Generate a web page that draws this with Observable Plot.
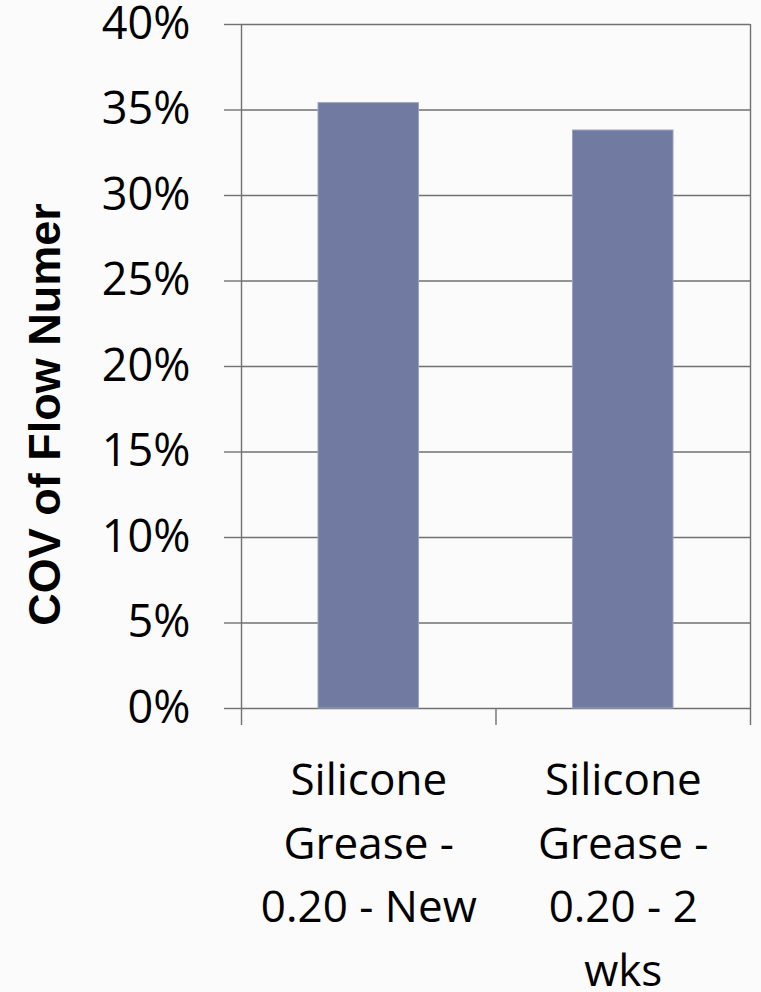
<!DOCTYPE html>
<html>
<head>
<meta charset="utf-8">
<script src="https://cdn.jsdelivr.net/npm/d3@7"></script>
<script src="https://cdn.jsdelivr.net/npm/@observablehq/plot@0.6"></script>
<style>
  html, body { margin: 0; padding: 0; background: #fbfbfb; }
  #chart svg { display: block; }
</style>
</head>
<body>
<div id="chart"></div>
<script>
// Coefficient of variation of the flow number, per grease sample
const categories = ["Silicone Grease - 0.20 - New", "Silicone Grease - 0.20 - 2 wks"];
const categoryLabels = ["Silicone\nGrease -\n0.20 - New", "Silicone\nGrease -\n0.20 - 2\nwks"];
const covValues = [0.354, 0.338];
const yTicks = [0, 0.05, 0.10, 0.15, 0.20, 0.25, 0.30, 0.35, 0.40];
const yTitle = "COV of Flow Numer";

const rows = categories.map((name, i) => ({ i, name, label: categoryLabels[i], cov: covValues[i] }));

const gridColor = "#717171";
const barColor = "#717aa1";

const chart = Plot.plot({
  width: 761,
  height: 992,
  marginLeft: 241,
  marginRight: 11,
  marginTop: 24,
  marginBottom: 284,
  style: { background: "transparent", fontFamily: "'Open Sans', sans-serif", color: "#000", overflow: "visible" },
  x: { type: "linear", domain: [0, categories.length] },
  y: { domain: [0, 0.4] },
  marks: [
    // horizontal gridlines at every tick, drawn under the bars
    Plot.ruleY(yTicks, { stroke: gridColor, strokeWidth: 1.4 }),
    // left and right edges of the plot area
    Plot.ruleX([0, categories.length], { stroke: gridColor, strokeWidth: 1.4 }),
    // one bar per category, centred in its slot
    Plot.rectY(rows, {
      x1: "i",
      x2: d => d.i + 1,
      y: "cov",
      insetLeft: 77,
      insetRight: 77,
      fill: barColor,
      stroke: "#9ba2c3",
      strokeWidth: 1
    }),
    Plot.axisY({
      ticks: yTicks,
      tickFormat: d3.format(".0%"),
      tickSize: 17,
      tickPadding: 34,
      stroke: gridColor,
      strokeWidth: 1.4,
      fontSize: 45,
      label: null
    }),
    // category boundary ticks below the baseline
    Plot.axisX({
      ticks: d3.range(0, categories.length + 1),
      tickSize: 17,
      tickFormat: () => "",
      stroke: gridColor,
      strokeWidth: 1.4,
      label: null
    }),
    // wrapped category names under each bar
    Plot.text(rows, {
      x: d => d.i + 0.5,
      frameAnchor: "bottom",
      text: "label",
      lineAnchor: "top",
      dy: 41,
      fontSize: 44,
      lineHeight: 1.45,
      fill: "#000"
    }),
    // y-axis title
    Plot.text([yTitle], {
      frameAnchor: "left",
      textAnchor: "middle",
      rotate: -90,
      dx: -196,
      dy: 48,
      fontSize: 45,
      fontWeight: "bold",
      fontFamily: "'Liberation Sans', Arial, sans-serif",
      fill: "#000"
    })
  ]
});

document.getElementById("chart").appendChild(chart);
</script>
</body>
</html>
